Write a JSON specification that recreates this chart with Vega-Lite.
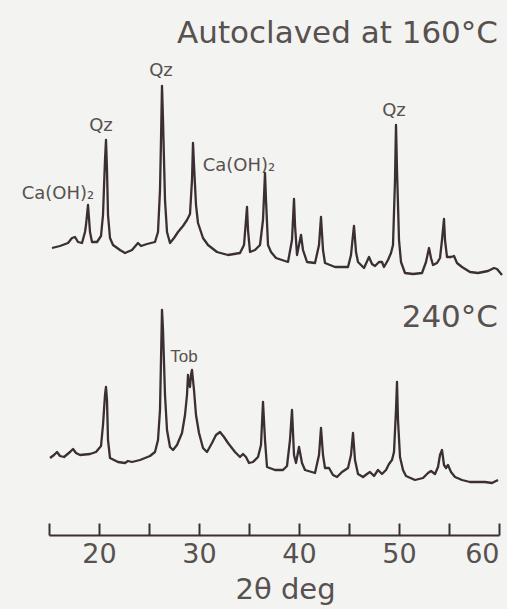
{
  "$schema": "https://vega.github.io/schema/vega-lite/v6.json",
  "width": 450,
  "height": 535,
  "autosize": {"type": "none"},
  "padding": {"left": 49, "top": 0, "right": 8, "bottom": 74},
  "background": "#f3f3f1",
  "config": {
    "view": {"stroke": null},
    "font": "DejaVu Sans"
  },
  "datasets": {
    "xrd": [
      {"sample": "160", "twoTheta": 15.3, "intensity": 287},
      {"sample": "160", "twoTheta": 16.1, "intensity": 289},
      {"sample": "160", "twoTheta": 16.9, "intensity": 292},
      {"sample": "160", "twoTheta": 17.3, "intensity": 297},
      {"sample": "160", "twoTheta": 17.6, "intensity": 298},
      {"sample": "160", "twoTheta": 17.9, "intensity": 293},
      {"sample": "160", "twoTheta": 18.3, "intensity": 292},
      {"sample": "160", "twoTheta": 18.6, "intensity": 303},
      {"sample": "160", "twoTheta": 18.7, "intensity": 310},
      {"sample": "160", "twoTheta": 18.9, "intensity": 330},
      {"sample": "160", "twoTheta": 19.1, "intensity": 303},
      {"sample": "160", "twoTheta": 19.3, "intensity": 293},
      {"sample": "160", "twoTheta": 19.8, "intensity": 293},
      {"sample": "160", "twoTheta": 20.2, "intensity": 299},
      {"sample": "160", "twoTheta": 20.4, "intensity": 320},
      {"sample": "160", "twoTheta": 20.6, "intensity": 375},
      {"sample": "160", "twoTheta": 20.7, "intensity": 395},
      {"sample": "160", "twoTheta": 20.8, "intensity": 365},
      {"sample": "160", "twoTheta": 20.9, "intensity": 320},
      {"sample": "160", "twoTheta": 21.1, "intensity": 297},
      {"sample": "160", "twoTheta": 21.4, "intensity": 290},
      {"sample": "160", "twoTheta": 22.1, "intensity": 285},
      {"sample": "160", "twoTheta": 22.6, "intensity": 282},
      {"sample": "160", "twoTheta": 23.3, "intensity": 285},
      {"sample": "160", "twoTheta": 23.9, "intensity": 292},
      {"sample": "160", "twoTheta": 24.2, "intensity": 289},
      {"sample": "160", "twoTheta": 24.8, "intensity": 291},
      {"sample": "160", "twoTheta": 25.6, "intensity": 293},
      {"sample": "160", "twoTheta": 25.9, "intensity": 303},
      {"sample": "160", "twoTheta": 26.1, "intensity": 345},
      {"sample": "160", "twoTheta": 26.2, "intensity": 395},
      {"sample": "160", "twoTheta": 26.3, "intensity": 449},
      {"sample": "160", "twoTheta": 26.4, "intensity": 415},
      {"sample": "160", "twoTheta": 26.6, "intensity": 335},
      {"sample": "160", "twoTheta": 26.8, "intensity": 303},
      {"sample": "160", "twoTheta": 27.1, "intensity": 292},
      {"sample": "160", "twoTheta": 27.5, "intensity": 297},
      {"sample": "160", "twoTheta": 27.9, "intensity": 303},
      {"sample": "160", "twoTheta": 28.4, "intensity": 309},
      {"sample": "160", "twoTheta": 28.8, "intensity": 315},
      {"sample": "160", "twoTheta": 29.1, "intensity": 321},
      {"sample": "160", "twoTheta": 29.3, "intensity": 355},
      {"sample": "160", "twoTheta": 29.4, "intensity": 392},
      {"sample": "160", "twoTheta": 29.5, "intensity": 370},
      {"sample": "160", "twoTheta": 29.7, "intensity": 330},
      {"sample": "160", "twoTheta": 29.9, "intensity": 312},
      {"sample": "160", "twoTheta": 30.4, "intensity": 297},
      {"sample": "160", "twoTheta": 30.9, "intensity": 290},
      {"sample": "160", "twoTheta": 31.8, "intensity": 283},
      {"sample": "160", "twoTheta": 32.9, "intensity": 280},
      {"sample": "160", "twoTheta": 34.1, "intensity": 282},
      {"sample": "160", "twoTheta": 34.5, "intensity": 290},
      {"sample": "160", "twoTheta": 34.7, "intensity": 315},
      {"sample": "160", "twoTheta": 34.8, "intensity": 328},
      {"sample": "160", "twoTheta": 34.9, "intensity": 305},
      {"sample": "160", "twoTheta": 35.1, "intensity": 283},
      {"sample": "160", "twoTheta": 35.6, "intensity": 285},
      {"sample": "160", "twoTheta": 36.1, "intensity": 290},
      {"sample": "160", "twoTheta": 36.4, "intensity": 315},
      {"sample": "160", "twoTheta": 36.6, "intensity": 362},
      {"sample": "160", "twoTheta": 36.7, "intensity": 335},
      {"sample": "160", "twoTheta": 36.9, "intensity": 290},
      {"sample": "160", "twoTheta": 37.2, "intensity": 283},
      {"sample": "160", "twoTheta": 37.7, "intensity": 277},
      {"sample": "160", "twoTheta": 38.3, "intensity": 275},
      {"sample": "160", "twoTheta": 38.9, "intensity": 273},
      {"sample": "160", "twoTheta": 39.3, "intensity": 295},
      {"sample": "160", "twoTheta": 39.5, "intensity": 336},
      {"sample": "160", "twoTheta": 39.6, "intensity": 310},
      {"sample": "160", "twoTheta": 39.8, "intensity": 280},
      {"sample": "160", "twoTheta": 40.0, "intensity": 290},
      {"sample": "160", "twoTheta": 40.2, "intensity": 300},
      {"sample": "160", "twoTheta": 40.4, "intensity": 285},
      {"sample": "160", "twoTheta": 40.8, "intensity": 273},
      {"sample": "160", "twoTheta": 41.6, "intensity": 272},
      {"sample": "160", "twoTheta": 42.0, "intensity": 290},
      {"sample": "160", "twoTheta": 42.2, "intensity": 318},
      {"sample": "160", "twoTheta": 42.4, "intensity": 285},
      {"sample": "160", "twoTheta": 42.6, "intensity": 272},
      {"sample": "160", "twoTheta": 43.6, "intensity": 268},
      {"sample": "160", "twoTheta": 44.9, "intensity": 268},
      {"sample": "160", "twoTheta": 45.2, "intensity": 280},
      {"sample": "160", "twoTheta": 45.4, "intensity": 300},
      {"sample": "160", "twoTheta": 45.5, "intensity": 309},
      {"sample": "160", "twoTheta": 45.7, "intensity": 283},
      {"sample": "160", "twoTheta": 45.9, "intensity": 273},
      {"sample": "160", "twoTheta": 46.5, "intensity": 267},
      {"sample": "160", "twoTheta": 47.0, "intensity": 278},
      {"sample": "160", "twoTheta": 47.3, "intensity": 271},
      {"sample": "160", "twoTheta": 47.6, "intensity": 269},
      {"sample": "160", "twoTheta": 48.0, "intensity": 273},
      {"sample": "160", "twoTheta": 48.3, "intensity": 273},
      {"sample": "160", "twoTheta": 48.5, "intensity": 268},
      {"sample": "160", "twoTheta": 48.9, "intensity": 275},
      {"sample": "160", "twoTheta": 49.2, "intensity": 282},
      {"sample": "160", "twoTheta": 49.4, "intensity": 290},
      {"sample": "160", "twoTheta": 49.6, "intensity": 355},
      {"sample": "160", "twoTheta": 49.7, "intensity": 410},
      {"sample": "160", "twoTheta": 49.8, "intensity": 365},
      {"sample": "160", "twoTheta": 50.0, "intensity": 295},
      {"sample": "160", "twoTheta": 50.2, "intensity": 273},
      {"sample": "160", "twoTheta": 50.6, "intensity": 262},
      {"sample": "160", "twoTheta": 51.4, "intensity": 261},
      {"sample": "160", "twoTheta": 52.3, "intensity": 262},
      {"sample": "160", "twoTheta": 52.7, "intensity": 273},
      {"sample": "160", "twoTheta": 53.0, "intensity": 287},
      {"sample": "160", "twoTheta": 53.2, "intensity": 277},
      {"sample": "160", "twoTheta": 53.4, "intensity": 270},
      {"sample": "160", "twoTheta": 53.8, "intensity": 272},
      {"sample": "160", "twoTheta": 54.1, "intensity": 277},
      {"sample": "160", "twoTheta": 54.3, "intensity": 295},
      {"sample": "160", "twoTheta": 54.5, "intensity": 316},
      {"sample": "160", "twoTheta": 54.6, "intensity": 295},
      {"sample": "160", "twoTheta": 54.8, "intensity": 278},
      {"sample": "160", "twoTheta": 55.2, "intensity": 278},
      {"sample": "160", "twoTheta": 55.5, "intensity": 279},
      {"sample": "160", "twoTheta": 55.8, "intensity": 272},
      {"sample": "160", "twoTheta": 56.3, "intensity": 268},
      {"sample": "160", "twoTheta": 57.1, "intensity": 263},
      {"sample": "160", "twoTheta": 57.9, "intensity": 262},
      {"sample": "160", "twoTheta": 58.9, "intensity": 264},
      {"sample": "160", "twoTheta": 59.5, "intensity": 267},
      {"sample": "160", "twoTheta": 59.8, "intensity": 266},
      {"sample": "160", "twoTheta": 60.3, "intensity": 260},

      {"sample": "240", "twoTheta": 15.1, "intensity": 77},
      {"sample": "240", "twoTheta": 15.5, "intensity": 80},
      {"sample": "240", "twoTheta": 15.8, "intensity": 83},
      {"sample": "240", "twoTheta": 16.1, "intensity": 79},
      {"sample": "240", "twoTheta": 16.5, "intensity": 78},
      {"sample": "240", "twoTheta": 17.1, "intensity": 83},
      {"sample": "240", "twoTheta": 17.4, "intensity": 86},
      {"sample": "240", "twoTheta": 17.7, "intensity": 82},
      {"sample": "240", "twoTheta": 18.1, "intensity": 80},
      {"sample": "240", "twoTheta": 19.1, "intensity": 81},
      {"sample": "240", "twoTheta": 19.7, "intensity": 83},
      {"sample": "240", "twoTheta": 20.2, "intensity": 89},
      {"sample": "240", "twoTheta": 20.4, "intensity": 110},
      {"sample": "240", "twoTheta": 20.6, "intensity": 140},
      {"sample": "240", "twoTheta": 20.7, "intensity": 148},
      {"sample": "240", "twoTheta": 20.8, "intensity": 135},
      {"sample": "240", "twoTheta": 20.9, "intensity": 95},
      {"sample": "240", "twoTheta": 21.1, "intensity": 77},
      {"sample": "240", "twoTheta": 21.9, "intensity": 73},
      {"sample": "240", "twoTheta": 22.6, "intensity": 72},
      {"sample": "240", "twoTheta": 22.9, "intensity": 74},
      {"sample": "240", "twoTheta": 23.3, "intensity": 73},
      {"sample": "240", "twoTheta": 24.1, "intensity": 75},
      {"sample": "240", "twoTheta": 25.1, "intensity": 79},
      {"sample": "240", "twoTheta": 25.6, "intensity": 83},
      {"sample": "240", "twoTheta": 25.9, "intensity": 95},
      {"sample": "240", "twoTheta": 26.1, "intensity": 125},
      {"sample": "240", "twoTheta": 26.2, "intensity": 175},
      {"sample": "240", "twoTheta": 26.3, "intensity": 225},
      {"sample": "240", "twoTheta": 26.4, "intensity": 205},
      {"sample": "240", "twoTheta": 26.6, "intensity": 140},
      {"sample": "240", "twoTheta": 26.8, "intensity": 105},
      {"sample": "240", "twoTheta": 27.1, "intensity": 88},
      {"sample": "240", "twoTheta": 27.4, "intensity": 85},
      {"sample": "240", "twoTheta": 27.8, "intensity": 90},
      {"sample": "240", "twoTheta": 28.3, "intensity": 102},
      {"sample": "240", "twoTheta": 28.6, "intensity": 120},
      {"sample": "240", "twoTheta": 28.8, "intensity": 140},
      {"sample": "240", "twoTheta": 28.9, "intensity": 160},
      {"sample": "240", "twoTheta": 29.0, "intensity": 150},
      {"sample": "240", "twoTheta": 29.1, "intensity": 148},
      {"sample": "240", "twoTheta": 29.2, "intensity": 160},
      {"sample": "240", "twoTheta": 29.3, "intensity": 165},
      {"sample": "240", "twoTheta": 29.5, "intensity": 145},
      {"sample": "240", "twoTheta": 29.7, "intensity": 120},
      {"sample": "240", "twoTheta": 30.0, "intensity": 102},
      {"sample": "240", "twoTheta": 30.4, "intensity": 87},
      {"sample": "240", "twoTheta": 30.8, "intensity": 83},
      {"sample": "240", "twoTheta": 31.3, "intensity": 92},
      {"sample": "240", "twoTheta": 31.7, "intensity": 100},
      {"sample": "240", "twoTheta": 32.1, "intensity": 103},
      {"sample": "240", "twoTheta": 32.5, "intensity": 98},
      {"sample": "240", "twoTheta": 32.9, "intensity": 92},
      {"sample": "240", "twoTheta": 33.6, "intensity": 83},
      {"sample": "240", "twoTheta": 34.1, "intensity": 78},
      {"sample": "240", "twoTheta": 34.4, "intensity": 81},
      {"sample": "240", "twoTheta": 34.7, "intensity": 78},
      {"sample": "240", "twoTheta": 35.0, "intensity": 72},
      {"sample": "240", "twoTheta": 35.4, "intensity": 73},
      {"sample": "240", "twoTheta": 35.9, "intensity": 78},
      {"sample": "240", "twoTheta": 36.2, "intensity": 90},
      {"sample": "240", "twoTheta": 36.4, "intensity": 133},
      {"sample": "240", "twoTheta": 36.6, "intensity": 95},
      {"sample": "240", "twoTheta": 36.8, "intensity": 68},
      {"sample": "240", "twoTheta": 37.6, "intensity": 65},
      {"sample": "240", "twoTheta": 38.4, "intensity": 65},
      {"sample": "240", "twoTheta": 38.8, "intensity": 69},
      {"sample": "240", "twoTheta": 39.1, "intensity": 95},
      {"sample": "240", "twoTheta": 39.3, "intensity": 125},
      {"sample": "240", "twoTheta": 39.5, "intensity": 80},
      {"sample": "240", "twoTheta": 39.7, "intensity": 72},
      {"sample": "240", "twoTheta": 40.0, "intensity": 88},
      {"sample": "240", "twoTheta": 40.3, "intensity": 72},
      {"sample": "240", "twoTheta": 40.6, "intensity": 65},
      {"sample": "240", "twoTheta": 41.6, "intensity": 62},
      {"sample": "240", "twoTheta": 42.0, "intensity": 80},
      {"sample": "240", "twoTheta": 42.2, "intensity": 107},
      {"sample": "240", "twoTheta": 42.4, "intensity": 80},
      {"sample": "240", "twoTheta": 42.6, "intensity": 67},
      {"sample": "240", "twoTheta": 43.0, "intensity": 67},
      {"sample": "240", "twoTheta": 43.4, "intensity": 60},
      {"sample": "240", "twoTheta": 43.8, "intensity": 58},
      {"sample": "240", "twoTheta": 44.3, "intensity": 63},
      {"sample": "240", "twoTheta": 44.9, "intensity": 67},
      {"sample": "240", "twoTheta": 45.2, "intensity": 80},
      {"sample": "240", "twoTheta": 45.4, "intensity": 102},
      {"sample": "240", "twoTheta": 45.6, "intensity": 75},
      {"sample": "240", "twoTheta": 45.9, "intensity": 61},
      {"sample": "240", "twoTheta": 46.4, "intensity": 58},
      {"sample": "240", "twoTheta": 46.8, "intensity": 61},
      {"sample": "240", "twoTheta": 47.1, "intensity": 63},
      {"sample": "240", "twoTheta": 47.5, "intensity": 59},
      {"sample": "240", "twoTheta": 47.9, "intensity": 65},
      {"sample": "240", "twoTheta": 48.3, "intensity": 61},
      {"sample": "240", "twoTheta": 48.7, "intensity": 65},
      {"sample": "240", "twoTheta": 49.0, "intensity": 71},
      {"sample": "240", "twoTheta": 49.3, "intensity": 75},
      {"sample": "240", "twoTheta": 49.5, "intensity": 83},
      {"sample": "240", "twoTheta": 49.7, "intensity": 125},
      {"sample": "240", "twoTheta": 49.8, "intensity": 153},
      {"sample": "240", "twoTheta": 49.9, "intensity": 115},
      {"sample": "240", "twoTheta": 50.1, "intensity": 78},
      {"sample": "240", "twoTheta": 50.4, "intensity": 65},
      {"sample": "240", "twoTheta": 50.7, "intensity": 59},
      {"sample": "240", "twoTheta": 51.6, "intensity": 55},
      {"sample": "240", "twoTheta": 52.4, "intensity": 57},
      {"sample": "240", "twoTheta": 52.9, "intensity": 62},
      {"sample": "240", "twoTheta": 53.2, "intensity": 64},
      {"sample": "240", "twoTheta": 53.6, "intensity": 61},
      {"sample": "240", "twoTheta": 53.9, "intensity": 68},
      {"sample": "240", "twoTheta": 54.1, "intensity": 80},
      {"sample": "240", "twoTheta": 54.3, "intensity": 85},
      {"sample": "240", "twoTheta": 54.5, "intensity": 70},
      {"sample": "240", "twoTheta": 54.7, "intensity": 67},
      {"sample": "240", "twoTheta": 54.9, "intensity": 70},
      {"sample": "240", "twoTheta": 55.2, "intensity": 63},
      {"sample": "240", "twoTheta": 55.6, "intensity": 58},
      {"sample": "240", "twoTheta": 56.3, "intensity": 55},
      {"sample": "240", "twoTheta": 57.1, "intensity": 53},
      {"sample": "240", "twoTheta": 58.6, "intensity": 53},
      {"sample": "240", "twoTheta": 59.3, "intensity": 52},
      {"sample": "240", "twoTheta": 59.9, "intensity": 55}
    ],
    "phases": [
      {"label": "Ca(OH)₂", "twoTheta": 15.9, "intensity": 336},
      {"label": "Qz", "twoTheta": 20.2, "intensity": 404},
      {"label": "Qz", "twoTheta": 26.2, "intensity": 459},
      {"label": "Ca(OH)₂", "twoTheta": 34.0, "intensity": 364},
      {"label": "Qz", "twoTheta": 49.5, "intensity": 419}
    ],
    "tobermorite": [
      {"label": "Tob", "twoTheta": 28.5, "intensity": 173}
    ],
    "headings": [
      {"label": "Autoclaved at 160°C", "twoTheta": 59.9, "intensity": 492},
      {"label": "240°C", "twoTheta": 59.9, "intensity": 208}
    ]
  },
  "layer": [
    {
      "data": {"name": "xrd"},
      "mark": {"type": "line", "color": "#3b2f34", "strokeWidth": 2.3, "strokeJoin": "round", "clip": false},
      "encoding": {
        "x": {
          "field": "twoTheta",
          "type": "quantitative",
          "scale": {"domain": [15, 60], "nice": false, "zero": false},
          "axis": {
            "title": "2θ deg",
            "values": [15, 20, 25, 30, 35, 40, 45, 50, 55, 60],
            "labelExpr": "datum.value % 10 === 0 ? datum.label : ''",
            "grid": false,
            "domainColor": "#3b2f34",
            "domainWidth": 2,
            "tickColor": "#3b2f34",
            "tickWidth": 2,
            "tickSize": -12,
            "labelFlush": true,
            "labelFont": "DejaVu Sans",
            "labelFontSize": 27,
            "labelColor": "#57514f",
            "labelPadding": 18,
            "titleFont": "DejaVu Sans",
            "titleFontSize": 29,
            "titleFontWeight": "normal",
            "titleColor": "#57514f",
            "titlePadding": 8,
            "titleX": 236
          }
        },
        "y": {
          "field": "intensity",
          "type": "quantitative",
          "scale": {"domain": [0, 535], "nice": false},
          "axis": null
        },
        "detail": {"field": "sample"}
      }
    },
    {
      "data": {"name": "phases"},
      "mark": {"type": "text", "font": "DejaVu Sans", "fontSize": 18, "color": "#57514f", "align": "center", "baseline": "alphabetic"},
      "encoding": {
        "x": {"field": "twoTheta", "type": "quantitative"},
        "y": {"field": "intensity", "type": "quantitative"},
        "text": {"field": "label"}
      }
    },
    {
      "data": {"name": "tobermorite"},
      "mark": {"type": "text", "font": "Liberation Sans", "fontSize": 17, "color": "#57514f", "align": "center", "baseline": "alphabetic"},
      "encoding": {
        "x": {"field": "twoTheta", "type": "quantitative"},
        "y": {"field": "intensity", "type": "quantitative"},
        "text": {"field": "label"}
      }
    },
    {
      "data": {"name": "headings"},
      "mark": {"type": "text", "font": "DejaVu Sans", "fontSize": 31, "color": "#57514f", "align": "right", "baseline": "alphabetic"},
      "encoding": {
        "x": {"field": "twoTheta", "type": "quantitative"},
        "y": {"field": "intensity", "type": "quantitative"},
        "text": {"field": "label"}
      }
    }
  ]
}
